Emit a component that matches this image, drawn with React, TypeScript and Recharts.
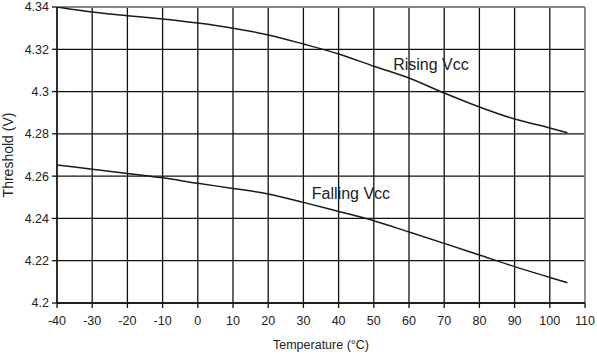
import React from 'react';
import { LineChart, Line, XAxis, YAxis, CartesianGrid, ReferenceLine, ReferenceDot } from 'recharts';

// Threshold vs temperature
const temps = [-40, -30, -20, -10, 0, 10, 20, 30, 40, 50, 60, 70, 80, 90, 100, 105];
const rising = [4.34, 4.3376, 4.3359, 4.3343, 4.3324, 4.33, 4.3268, 4.3225, 4.3178, 4.312, 4.3064, 4.2993, 4.2927, 4.287, 4.2828, 4.2805];
const falling = [4.2653, 4.2633, 4.2613, 4.2592, 4.2566, 4.2542, 4.2516, 4.2476, 4.2433, 4.2389, 4.2336, 4.2282, 4.2227, 4.2172, 4.2121, 4.2096];
const xTicks = [-40, -30, -20, -10, 0, 10, 20, 30, 40, 50, 60, 70, 80, 90, 100, 110];
const yTicks = [4.2, 4.22, 4.24, 4.26, 4.28, 4.3, 4.32, 4.34];

const data = temps.map((t, i) => ({ temp: t, rising: rising[i], falling: falling[i] }));

const FONT = '"Liberation Sans", Arial, Helvetica, sans-serif';
const INK = '#222';

const fmtY = (v: number) => String(Math.round(v * 100) / 100);

const CurveLabel = (text: string) => (props: any) => {
  const { viewBox } = props;
  return (
    <text x={viewBox.x} y={viewBox.y} dy="0.35em" fontSize={16} fill={INK} fontFamily={FONT}>
      {text}
    </text>
  );
};

export default function App() {
  return (
    <div style={{ position: 'absolute', left: 0, top: 0, background: '#fff', fontFamily: FONT }}>
      <LineChart width={597} height={357} data={data} margin={{ top: 7, right: 12, bottom: 4, left: 0 }}>
        <CartesianGrid stroke="#111" strokeWidth={1.3} />
        <XAxis
          dataKey="temp"
          type="number"
          domain={[-40, 110]}
          ticks={xTicks}
          interval={0}
          height={50}
          stroke="#111"
          strokeWidth={1.3}
          tickSize={5}
          tickMargin={8}
          tick={{ fill: INK, fontSize: 12.5, fontFamily: FONT }}
          label={{ value: 'Temperature (°C)', position: 'insideBottom', offset: 4, fill: INK, fontSize: 12.5, fontFamily: FONT }}
        />
        <YAxis
          type="number"
          domain={[4.2, 4.34]}
          ticks={yTicks}
          interval={0}
          width={57}
          stroke="#111"
          strokeWidth={1.3}
          tickSize={5}
          tickMargin={3}
          tickFormatter={fmtY}
          tick={{ fill: INK, fontSize: 12.5, fontFamily: FONT }}
          allowDataOverflow
          label={{ value: 'Threshold (V)', angle: -90, position: 'insideLeft', offset: 8, fill: INK, fontSize: 14, fontFamily: FONT, style: { textAnchor: 'middle' } }}
        />
        <ReferenceLine y={4.34} stroke="#999" strokeWidth={1.5} />
        <ReferenceLine x={110} stroke="#999" strokeWidth={1.5} />
        <Line type="monotone" dataKey="rising" stroke="#1a1a1a" strokeWidth={1.5} dot={false} isAnimationActive={false} />
        <Line type="monotone" dataKey="falling" stroke="#1a1a1a" strokeWidth={1.5} dot={false} isAnimationActive={false} />
        <ReferenceDot x={55.5} y={4.313} r={0} stroke="none" fill="none" label={CurveLabel('Rising Vcc')} />
        <ReferenceDot x={32.4} y={4.252} r={0} stroke="none" fill="none" label={CurveLabel('Falling Vcc')} />
      </LineChart>
    </div>
  );
}
